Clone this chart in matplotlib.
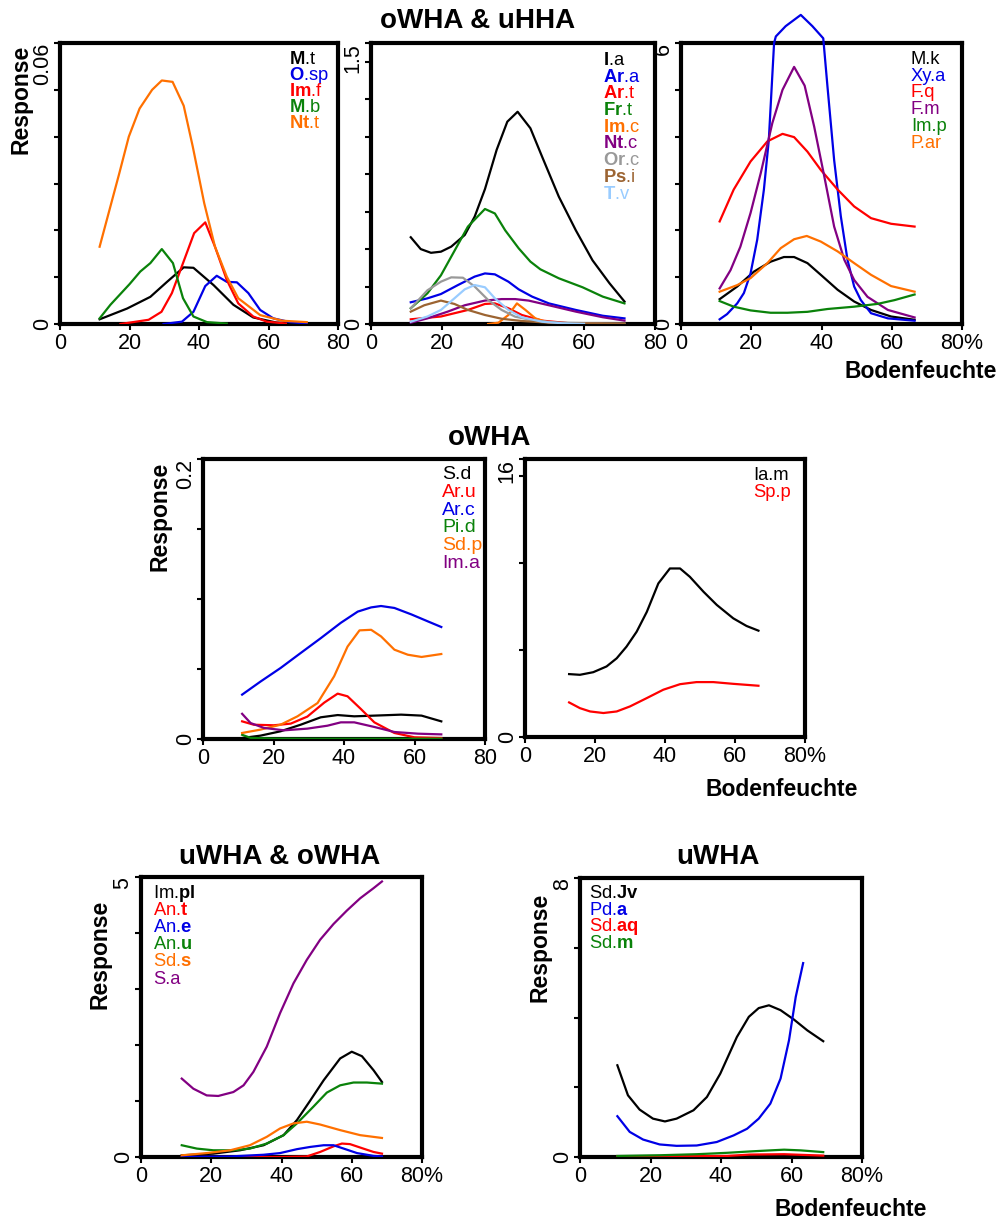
import matplotlib
matplotlib.use('Agg')
import matplotlib.pyplot as plt

plt.rcParams['font.family'] = ['Liberation Sans', 'DejaVu Sans']
plt.rcParams['mathtext.fontset'] = 'custom'
plt.rcParams['mathtext.rm'] = 'Liberation Sans'
plt.rcParams['mathtext.bf'] = 'Liberation Sans:bold'

W, H = 999, 1220

BLACK = '#000000'
BLUE = '#0000e6'
RED = '#ff0000'
GREEN = '#0a820a'
ORANGE = '#ff7000'
PURPLE = '#820082'
GREY = '#999999'
BROWN = '#9c6432'
LBLUE = '#99ccff'

# ---- panel 1 (oWHA & uHHA, left) ----
p1_names = [r'$\mathbf{M}$.t', r'$\mathbf{O}$.sp', r'$\mathbf{Im}$.f', r'$\mathbf{M}$.b', r'$\mathbf{Nt}$.t']
p1_colors = [BLACK, BLUE, RED, GREEN, ORANGE]
p1_x = [
    [11.4, 19.3, 26, 30.8, 35.6, 38.4, 44.2, 49.9, 55.6, 62.3, 69],
    [29.8, 35.1, 38.4, 41.8, 45.1, 48, 50.9, 54.2, 57.6, 61.4, 66.2, 71],
    [17.4, 25.5, 29.2, 32.2, 35.4, 38.6, 41.8, 44.6, 48, 51.3, 55.6, 59.5, 65],
    [11.4, 14.5, 17.5, 20, 23.1, 26, 29.3, 32.5, 35.4, 38.4, 42.3, 48],
    [11.4, 14, 17, 19.8, 22.9, 26.5, 29.3, 32.4, 35.6, 38.2, 41.5, 44.6, 48, 51.3, 57.6, 64, 71],
]
p1_y = [
    [0.001, 0.0033, 0.0058, 0.009, 0.0121, 0.012, 0.0083, 0.0041, 0.0014, 0.0003, 0.0001],
    [0.0, 0.0005, 0.0026, 0.0081, 0.0103, 0.009, 0.0089, 0.0066, 0.003, 0.0012, 0.0004, 0.0001],
    [0.0, 0.0009, 0.0026, 0.0066, 0.013, 0.0194, 0.0217, 0.0165, 0.0094, 0.0044, 0.0016, 0.0005, 0.0001],
    [0.0012, 0.0041, 0.0065, 0.0085, 0.0112, 0.013, 0.016, 0.013, 0.0055, 0.0016, 0.0004, 0.0001],
    [0.0165, 0.0237, 0.032, 0.040, 0.046, 0.050, 0.052, 0.0517, 0.0466, 0.0379, 0.0258, 0.0165, 0.0101, 0.0055, 0.0019, 0.0007, 0.0004],
]

# ---- panel 2 (oWHA & uHHA, middle) ----
p2_names = [r'$\mathbf{I}$.a', r'$\mathbf{Ar}$.a', r'$\mathbf{Ar}$.t', r'$\mathbf{Fr}$.t', r'$\mathbf{Im}$.c',
            r'$\mathbf{Nt}$.c', r'$\mathbf{Or}$.c', r'$\mathbf{Ps}$.i', r'$\mathbf{T}$.v']
p2_colors = [BLACK, BLUE, RED, GREEN, ORANGE, PURPLE, GREY, BROWN, LBLUE]
p2_x = [
    [11.2, 14, 16.9, 19.7, 22.6, 26.4, 29.2, 32.1, 35.4, 38.4, 41.3, 44.9, 48.2, 52.9, 57.7, 62.4, 67.2, 71.4],
    [11.2, 15.9, 19.7, 24.5, 29.2, 32.1, 34.9, 38.7, 41.6, 45.4, 50.1, 57.7, 65.3, 71.4],
    [11.2, 19.7, 27.3, 32.1, 34.9, 38.7, 42.5, 48.2, 55.8, 65],
    [11.2, 15.9, 19.7, 23.5, 27.3, 32.1, 34.9, 37.8, 41.6, 44.9, 47.7, 52.9, 59.6, 65.3, 71.4],
    [33, 35.9, 38.7, 41.1, 43.5, 46.3, 50.1, 54],
    [11.2, 15.9, 21.6, 26.4, 32.1, 36.8, 40.6, 44.4, 50.1, 57.7, 65.3, 71.4],
    [11.2, 15.9, 19.7, 22.6, 25.9, 29.2, 33, 36.8, 40.6, 46.3, 52.9, 62.4, 71.4],
    [11.2, 15, 19.7, 23.5, 27.3, 32.1, 36.8, 42.5, 50.1, 57.7, 71.4],
    [11.2, 15.9, 19.7, 23.5, 26.4, 29.2, 32.1, 34.9, 38.7, 42.5, 48.2, 53.9, 60],
]
p2_y = [
    [0.463, 0.40, 0.38, 0.386, 0.413, 0.475, 0.573, 0.72, 0.93, 1.08, 1.133, 1.045, 0.893, 0.68, 0.50, 0.34, 0.217, 0.12],
    [0.116, 0.137, 0.16, 0.208, 0.253, 0.27, 0.265, 0.226, 0.185, 0.146, 0.11, 0.075, 0.044, 0.03],
    [0.025, 0.04, 0.075, 0.107, 0.11, 0.084, 0.048, 0.018, 0.004, 0.001],
    [0.084, 0.164, 0.26, 0.39, 0.52, 0.614, 0.59, 0.50, 0.404, 0.333, 0.292, 0.244, 0.196, 0.146, 0.11],
    [0.0, 0.007, 0.048, 0.11, 0.075, 0.03, 0.007, 0.001],
    [0.007, 0.03, 0.066, 0.10, 0.125, 0.133, 0.133, 0.125, 0.10, 0.066, 0.036, 0.018],
    [0.084, 0.18, 0.226, 0.249, 0.247, 0.2, 0.128, 0.075, 0.039, 0.018, 0.007, 0.004, 0.002],
    [0.066, 0.10, 0.125, 0.107, 0.075, 0.048, 0.028, 0.016, 0.007, 0.004, 0.002],
    [0.012, 0.04, 0.075, 0.137, 0.185, 0.208, 0.196, 0.137, 0.075, 0.036, 0.012, 0.004, 0.001],
]

# ---- panel 3 (oWHA & uHHA, right) ----
p3_names = ['M.k', 'Xy.a', 'F.q', 'F.m', 'Im.p', 'P.ar']
p3_colors = [BLACK, BLUE, RED, PURPLE, GREEN, ORANGE]
p3_x = [
    [11, 16, 20.8, 25.5, 29.3, 32.2, 36, 39.8, 44.6, 49.3, 54.1, 59.8, 66.5],
    [11, 13.1, 16, 17.9, 19.8, 21.7, 23.6, 25, 26.5, 27, 29.8, 34.1, 37.4, 40.5, 41.7, 43.6, 45.5, 47.4, 49.3, 51.2, 54.1, 58.9, 66.5],
    [11, 15, 19.8, 24.6, 28.9, 32.2, 36, 39.8, 44.6, 49.3, 54.1, 59.8, 66.5],
    [11, 14.1, 16.9, 19.8, 22.7, 26, 28.9, 32.2, 35.2, 37.9, 40.8, 43.6, 46.5, 49.3, 53.1, 58.9, 66.5],
    [11, 15, 19.8, 25.5, 30.3, 36, 41.7, 49.3, 56, 60.8, 66.5],
    [11, 16, 19.8, 24.6, 28.4, 32.2, 35.8, 39.8, 44.6, 49.3, 54.1, 59.8, 66.5],
]
p3_y = [
    [0.53, 0.8, 1.12, 1.33, 1.43, 1.43, 1.3, 1.05, 0.73, 0.48, 0.3, 0.16, 0.09],
    [0.1, 0.21, 0.44, 0.66, 1.08, 1.8, 2.87, 3.93, 6.0, 6.14, 6.36, 6.6, 6.36, 6.1, 5.07, 3.5, 2.3, 1.37, 0.8, 0.51, 0.23, 0.12, 0.07],
    [2.19, 2.87, 3.47, 3.9, 4.06, 3.99, 3.68, 3.29, 2.87, 2.51, 2.26, 2.14, 2.08],
    [0.76, 1.15, 1.65, 2.37, 3.22, 4.29, 5.0, 5.49, 5.09, 4.22, 3.15, 2.08, 1.37, 0.94, 0.58, 0.3, 0.14],
    [0.49, 0.37, 0.29, 0.24, 0.24, 0.26, 0.32, 0.37, 0.43, 0.51, 0.63],
    [0.69, 0.83, 0.98, 1.3, 1.62, 1.81, 1.88, 1.76, 1.55, 1.3, 1.05, 0.81, 0.69],
]

# ---- panel 4 (oWHA, left) ----
p4_names = ['S.d', 'Ar.u', 'Ar.c', 'Pi.d', 'Sd.p', 'Im.a']
p4_colors = [BLACK, RED, BLUE, GREEN, ORANGE, PURPLE]
p4_x = [
    [11.1, 16.3, 22, 27.7, 33.4, 38.2, 42.9, 48.6, 56.2, 62, 67.6],
    [11.1, 14.4, 20.1, 24.9, 29.6, 34.4, 38.2, 41, 44.8, 48.6, 54.3, 60, 67.6],
    [11.1, 16.3, 22, 27.7, 33.4, 39.1, 43.9, 47.7, 50.5, 54.3, 59.1, 63.8, 67.6],
    [11.1, 13.5, 20, 30, 45, 67.6],
    [11.1, 16.3, 22, 26.8, 32.5, 37.2, 41, 44.4, 47.7, 50.5, 54.3, 58.1, 62, 67.6],
    [11.1, 13.5, 17.3, 23, 29.6, 35.3, 39.1, 42.9, 48.6, 54.3, 61, 67.6],
]
p4_y = [
    [0.0007, 0.0024, 0.0055, 0.0102, 0.0155, 0.0171, 0.0162, 0.0167, 0.0174, 0.0167, 0.0126],
    [0.0126, 0.0102, 0.0098, 0.011, 0.016, 0.026, 0.0324, 0.0305, 0.0214, 0.0119, 0.0043, 0.0012, 0.0007],
    [0.0317, 0.041, 0.0507, 0.0614, 0.072, 0.083, 0.091, 0.094, 0.095, 0.0936, 0.089, 0.084, 0.080],
    [0.003, 0.0008, 0.0003, 0.0002, 0.0002, 0.0002],
    [0.0043, 0.0067, 0.0102, 0.0162, 0.0257, 0.0448, 0.066, 0.0776, 0.078, 0.0733, 0.0638, 0.0602, 0.0586, 0.0607],
    [0.018, 0.0114, 0.0079, 0.0062, 0.0074, 0.0095, 0.0119, 0.0119, 0.0086, 0.005, 0.0038, 0.0033],
]

# ---- panel 5 (oWHA, right) ----
p5_names = ['Ia.m', 'Sp.p']
p5_colors = [BLACK, RED]
p5_x = [
    [12.6, 15.7, 19.5, 23.3, 26.2, 29, 31.9, 34.8, 38.1, 41.4, 44.3, 47.1, 51, 54.8, 59.5, 63.3, 66.7],
    [12.6, 15.7, 18.6, 22.4, 26.2, 30, 34.8, 39.5, 44.3, 49, 53.8, 59.5, 66.7],
]
p5_y = [
    [3.62, 3.58, 3.73, 4.06, 4.53, 5.2, 6.06, 7.2, 8.84, 9.7, 9.7, 9.22, 8.36, 7.6, 6.83, 6.39, 6.12],
    [1.99, 1.66, 1.47, 1.38, 1.47, 1.76, 2.24, 2.72, 3.04, 3.16, 3.16, 3.06, 2.95],
]

# ---- panel 6 (uWHA & oWHA) ----
p6_names = [r'Im.$\mathbf{pl}$', r'An.$\mathbf{t}$', r'An.$\mathbf{e}$', r'An.$\mathbf{u}$', r'Sd.$\mathbf{s}$', 'S.a']
p6_colors = [BLACK, RED, BLUE, GREEN, ORANGE, PURPLE]
p6_x = [
    [11.6, 20.6, 28.2, 34.9, 40.6, 44.4, 48.2, 52, 56.7, 60, 62.9, 66.2, 68.6],
    [11.6, 30, 40, 47.2, 51, 54.8, 57.2, 59.5, 63.3, 66.2, 68.6],
    [11.6, 25.4, 34.9, 39.6, 44.4, 48.2, 52, 54.8, 57.7, 61.5, 66.2, 68.6],
    [11.6, 15.9, 20.6, 26.3, 31, 35.8, 40.6, 44.4, 49.1, 52.9, 56.7, 60.5, 64.3, 68.6],
    [11.6, 18.7, 25.4, 31, 35.8, 39.6, 43.4, 47.2, 51, 56.7, 62.4, 68.6],
    [11.6, 14.9, 18.7, 22, 26.3, 29.2, 32, 35.8, 39.6, 43.4, 47.2, 51, 54.8, 58.6, 62.4, 66.2, 68.6],
]
p6_y = [
    [0.03, 0.06, 0.12, 0.21, 0.39, 0.66, 1.01, 1.37, 1.76, 1.88, 1.8, 1.55, 1.34],
    [0.0, 0.0, 0.0, 0.01, 0.09, 0.19, 0.24, 0.23, 0.15, 0.09, 0.06],
    [0.0, 0.01, 0.04, 0.07, 0.14, 0.18, 0.21, 0.21, 0.15, 0.07, 0.02, 0.01],
    [0.21, 0.15, 0.12, 0.12, 0.15, 0.24, 0.39, 0.6, 0.9, 1.15, 1.28, 1.33, 1.33, 1.31],
    [0.03, 0.07, 0.12, 0.21, 0.36, 0.51, 0.6, 0.63, 0.58, 0.48, 0.39, 0.34],
    [1.4, 1.22, 1.1, 1.09, 1.16, 1.28, 1.52, 1.97, 2.57, 3.1, 3.52, 3.88, 4.16, 4.4, 4.62, 4.8, 4.92],
]

# ---- panel 7 (uWHA) ----
p7_names = [r'Sd.$\mathbf{Jv}$', r'Pd.$\mathbf{a}$', r'Sd.$\mathbf{aq}$', r'Sd.$\mathbf{m}$']
p7_colors = [BLACK, BLUE, RED, GREEN]
p7_x = [
    [10.6, 13.6, 16.9, 20.7, 24.1, 27.4, 32.2, 36, 39.8, 44.5, 47.9, 50.7, 53.6, 56.9, 60.7, 64.5, 69],
    [10.6, 14.1, 17.9, 22.6, 27.4, 33.1, 38.8, 43.6, 47.4, 50.7, 54, 56.9, 59.3, 61.2, 63.3],
    [10.6, 41.7, 48.3, 57.9, 69],
    [10.6, 22.6, 33.1, 41.7, 48.3, 54, 57.9, 62.6, 69],
]
p7_y = [
    [2.63, 1.77, 1.36, 1.1, 1.02, 1.1, 1.34, 1.72, 2.39, 3.44, 4.02, 4.27, 4.35, 4.21, 3.94, 3.63, 3.32],
    [1.17, 0.72, 0.5, 0.36, 0.32, 0.33, 0.43, 0.62, 0.81, 1.1, 1.53, 2.25, 3.35, 4.59, 5.56],
    [0.02, 0.03, 0.07, 0.08, 0.04],
    [0.03, 0.05, 0.08, 0.12, 0.16, 0.19, 0.21, 0.19, 0.14],
]

x_ticks = [0, 20, 40, 60, 80]

fig = plt.figure(figsize=(W / 100, H / 100), dpi=100)


def panel(left, top, right, bottom, xs, ys, colors, ymax, yticks, ylabel_top,
          pct, names, leg_x, leg_y, leg_dy, leg_size=13.2, unclip=False):
    ax = fig.add_axes([left / W, 1 - bottom / H, (right - left) / W, (bottom - top) / H])
    for x, y, c in zip(xs, ys, colors):
        ax.plot(x, y, color=c, lw=1.6, clip_on=not unclip, zorder=3)
    ax.set_xlim(0, 80)
    ax.set_ylim(0, ymax)
    ax.set_xticks(x_ticks)
    lab = [str(t) for t in x_ticks]
    if pct:
        lab[-1] = '80%'
    ax.set_xticklabels(lab, fontsize=15.5)
    ax.set_yticks(yticks)
    ylab = [''] * len(yticks)
    ylab[0] = '0'
    ylab[-1] = ylabel_top
    ax.set_yticklabels(ylab, fontsize=15.5, rotation=90, va='center')
    ax.get_yticklabels()[-1].set_verticalalignment('top')
    for s in ax.spines.values():
        s.set_linewidth(3)
    ax.tick_params(direction='out', length=4.5, width=1.5, pad=2)
    ax.tick_params(axis='y', pad=0.8)
    for i, (n, c) in enumerate(zip(names, colors)):
        fig.text(leg_x / W, 1 - (leg_y + i * leg_dy) / H, n, color=c,
                 fontsize=leg_size, va='baseline', ha='left')
    return ax


panel(60, 43, 338, 324, p1_x, p1_y, p1_colors, 0.06,
      [0, 0.01, 0.02, 0.03, 0.04, 0.05, 0.06], '0.06', False,
      p1_names, 289, 64, 16)
panel(371, 43, 655, 324, p2_x, p2_y, p2_colors, 1.5,
      [0, 0.2, 0.4, 0.6, 0.8, 1.0, 1.2, 1.4, 1.5], '1.5', False,
      p2_names, 603, 65, 16.7)
panel(681, 43, 962, 324, p3_x, p3_y, p3_colors, 6,
      [0, 1, 2, 3, 4, 5, 6], '6', True,
      p3_names, 911, 64, 16.7, unclip=True)
panel(203, 459, 485, 739, p4_x, p4_y, p4_colors, 0.2,
      [0, 0.05, 0.1, 0.15, 0.2], '0.2', False,
      p4_names, 442, 479, 17.8, leg_size=14)
panel(525, 459, 805, 737, p5_x, p5_y, p5_colors, 16,
      [0, 5, 10, 15, 16], '16', True,
      p5_names, 753, 480, 16.7)
panel(141, 877, 422, 1157, p6_x, p6_y, p6_colors, 5,
      [0, 1, 2, 3, 4, 5], '5', True,
      p6_names, 153, 898, 17.1)
panel(580, 878, 862, 1157, p7_x, p7_y, p7_colors, 8,
      [0, 2, 4, 6, 8], '8', True,
      p7_names, 589, 898, 16.7)

# titles
for t, x, y in [('oWHA & uHHA', 478, 21), ('oWHA', 490, 438),
                ('uWHA & oWHA', 280, 857), ('uWHA', 718, 857)]:
    fig.text(x / W, 1 - y / H, t, fontsize=20, fontweight='bold', ha='center', va='center')

for x, y in [(21, 45), (160, 462), (100, 900), (540, 893)]:
    fig.text(x / W, 1 - y / H, 'Response', fontsize=16.5, fontweight='bold',
             rotation=90, ha='center', va='top')

for x, y in [(997, 371), (858, 790), (927, 1210)]:
    fig.text(x / W, 1 - y / H, 'Bodenfeuchte', fontsize=16.5, fontweight='bold',
             ha='right', va='center')

fig.savefig('out.png', dpi=100)
